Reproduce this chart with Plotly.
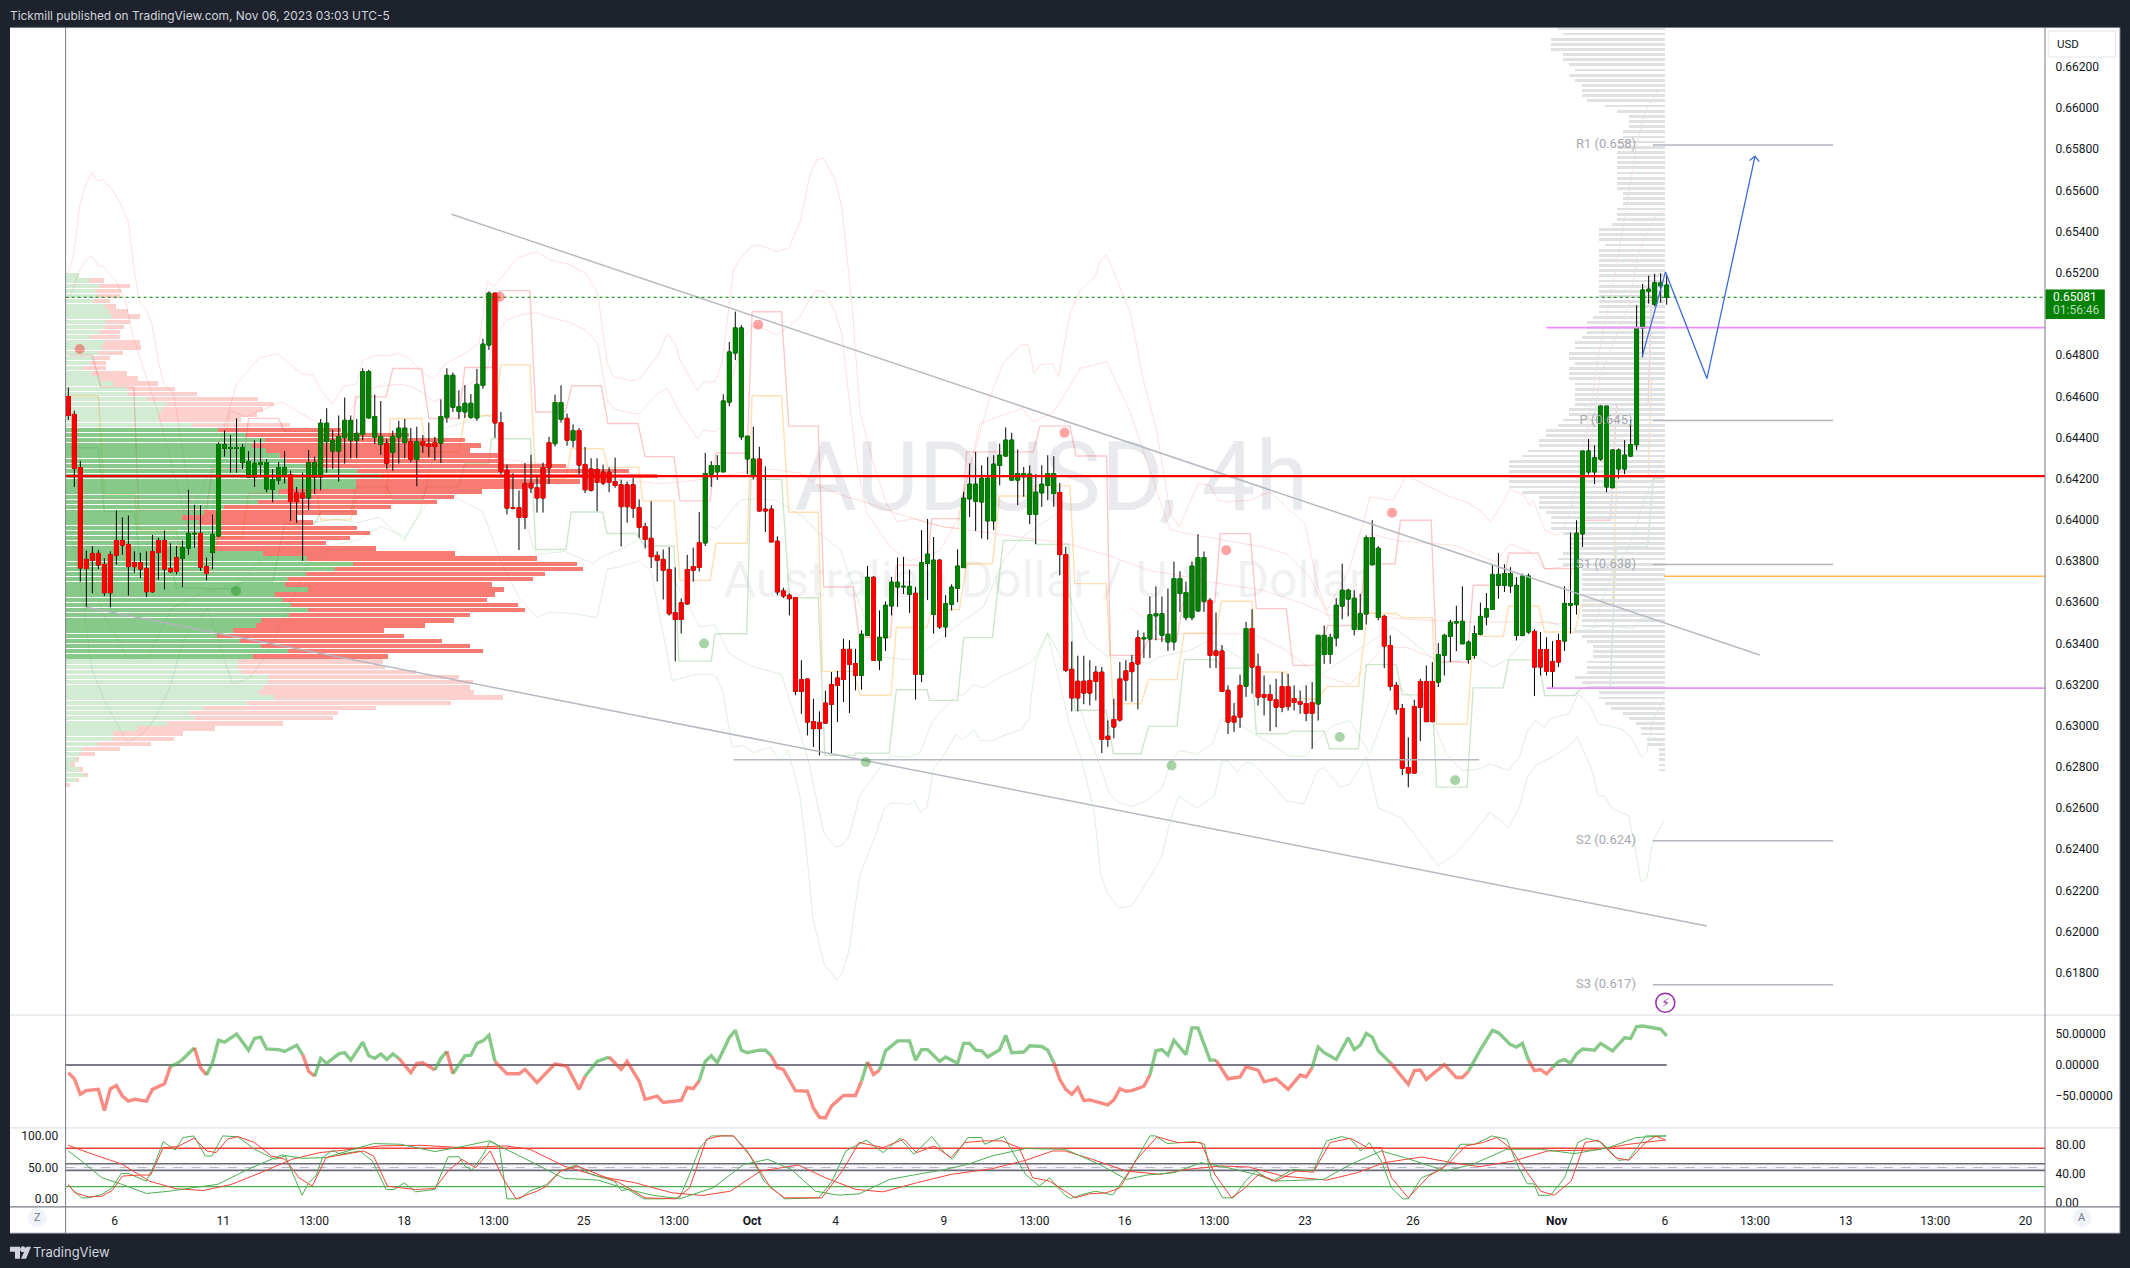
import numpy as np
import plotly.graph_objects as go

W, H = 2130, 1268
VS = 1.0034
AX_L, AX_R = 65.6, 2045.0
DARK = "#1e222d"
FONT = "Roboto"
TXT = "#131722"

# ---------- candles (prices in 1/10000) ----------
body_top = [6459.9,6451.2,6425.4,6380.8,6383.7,6383.7,6378.3,6383,6390,6390,
6388,6379.2,6379.2,6376.4,6384.6,6390,6390,6376.4,6381.6,6386.5,
6393.4,6393.4,6393.4,6377.3,6392.9,6436.6,6436.6,6435.1,6435.1,6435.1,
6428.3,6427.4,6427.8,6427.8,6419.6,6425.4,6425.4,6421.9,6413,6412.9,
6427.8,6427.8,6446.9,6446.9,6438.6,6440.5,6448.3,6448.3,6442,6472,
6472,6450.2,6440.5,6437.2,6440.5,6444.5,6444.5,6438,6438,6438,
6436.8,6437.5,6450.2,6470.2,6470.2,6455,6456.6,6456.6,6465.8,6485.3,
6510.1,6510.1,6447.2,6424,6405.9,6405.9,6417.7,6417.7,6415.6,6425.4,
6437.5,6457,6457,6449.3,6443.4,6443.4,6426.9,6424.7,6424.5,6423.1,
6423.1,6418.6,6417,6417,6417,6405.9,6396.7,6391,6382.7,6380.8,
6375.9,6354.9,6359.7,6375.9,6377.3,6388.9,6422.5,6426.4,6426.4,6457.7,
6481.5,6493.2,6493.2,6440.6,6429.5,6429.5,6405.2,6405.2,6389.6,6365.5,
6363.4,6362.2,6322.4,6322.7,6302,6301.6,6311,6320,6323.2,6337.1,
6337.1,6330.2,6344.4,6372.1,6372.1,6342.9,6358.5,6369.7,6369.7,6367.7,
6367.7,6364.3,6379.2,6383.3,6380.4,6380.4,6359.3,6367.3,6377.5,6410.5,
6417.3,6417.3,6420.2,6420.2,6427,6431.4,6438.7,6438.7,6422.5,6422.5,
6422.2,6413.4,6417.3,6422.5,6422.5,6413.3,6383.1,6327.4,6321.6,6321.6,
6322,6326,6326,6294.9,6303,6322.7,6326.6,6330.5,6342.7,6342.7,
6353.9,6354.4,6354.4,6344.4,6371.5,6371.5,6364.7,6377.5,6381.7,6381.7,
6360.9,6336.3,6336.3,6317.2,6304.6,6319.6,6347.2,6347.2,6328.8,6315.2,
6315.2,6312.6,6319,6319,6313.2,6311.8,6310.8,6311.3,6343.9,6343.9,
6342.9,6358.5,6365.8,6365.8,6361.9,6354.4,6391.4,6391.4,6386.2,6353.1,
6339,6319.6,6308.4,6279.7,6309.3,6321.5,6321.5,6321.5,6334.6,6343.9,
6350.2,6350.5,6350.7,6340.6,6344.7,6353.1,6356.8,6373.5,6373.5,6373.9,
6373.9,6368.2,6372.7,6372.7,6345.8,6337,6337,6331.2,6341.4,6359.4,
6359.4,6393.5,6433.4,6433.4,6430.1,6455.2,6455.2,6433.9,6433.9,6431.4,
6436.6,6493.4,6511.6,6512,6515.1,6515.1,6514]

body_bot = [6450.7,6425,6376.6,6376.4,6380.4,6378.1,6364.6,6364.6,6382.8,6387.7,
6377.3,6377.3,6376.1,6365.1,6365.1,6384.2,6376.1,6374.8,6375,6381.3,
6386.3,6393.1,6377,6374,6384.2,6392.2,6434.7,6434.7,6434.7,6427.8,
6420.7,6420.7,6426.9,6415,6414.8,6419.3,6421.7,6408.9,6408.9,6410.6,
6410.6,6420.7,6420.7,6438,6433.4,6433.4,6440,6438.7,6438.7,6441.5,
6449.5,6440.1,6436.6,6427.4,6432.7,6440.1,6437.5,6429.4,6429.4,6436.3,
6435.6,6435.6,6437.3,6449.8,6454.7,6452.6,6452.4,6449.8,6449.5,6465.3,
6484.9,6447.1,6423.5,6405.7,6405.6,6401.2,6401.2,6415.5,6410.6,6410.6,
6425.2,6437,6448.8,6438.7,6438.6,6426.6,6414.6,6414.4,6418.2,6417.9,
6418.2,6416.7,6406.4,6406.4,6405.7,6396.4,6390.5,6382.1,6380.4,6375.5,
6354.4,6351.6,6351.6,6359.2,6375.5,6376.9,6388.8,6422.2,6423.3,6423.3,
6457.2,6481,6440.3,6429.6,6421.2,6404.3,6404.3,6389.3,6365,6363,
6361.7,6316.7,6316.7,6301.8,6298.6,6298.6,6301.3,6310.4,6319.6,6322.5,
6329.8,6324.5,6324.5,6343.9,6331.8,6331.8,6342.7,6358.2,6367.4,6367.4,
6363.9,6325,6325,6378.8,6354.1,6348,6348,6359,6366.8,6376.8,
6410.2,6409,6408.7,6399.5,6399.5,6426.5,6431,6419.3,6419.3,6420.9,
6402.7,6402.7,6413.1,6416.8,6412.8,6383.1,6326.9,6313.5,6313.5,6315.9,
6315.9,6321.6,6293.4,6293.4,6299.4,6302.8,6322.2,6326.3,6330,6342.2,
6342.2,6353.4,6344,6340.7,6340.7,6364.2,6352.5,6352.5,6355.8,6360.5,
6334.2,6334.2,6316.7,6301.8,6301.8,6304.2,6319.2,6328.5,6313.9,6313.9,
6312.3,6309,6309,6309.3,6311.3,6310.5,6306.1,6306.1,6310.6,6334.6,
6334.6,6342.6,6358.1,6361.5,6346.8,6346.8,6354.3,6378.2,6352.6,6338.7,
6319.2,6308,6279.4,6277,6277,6309,6302,6302,6321.2,6334.2,
6343.4,6349.9,6339.8,6332.2,6334.2,6344.4,6352.8,6356.5,6368.2,6368.2,
6367.9,6343.9,6343.9,6345.5,6328.5,6328.5,6326.5,6326.5,6330.9,6341.1,
6358.5,6358.8,6393.2,6423.3,6423.3,6429.5,6416,6415.6,6424.7,6424.7,
6431,6436.5,6493.2,6511.1,6504.7,6513.7,6508.1]

wick_high = [6464.3,6453,6428.5,6385.1,6387.3,6385.4,6381.3,6384.7,6404.5,6401.2,
6402.1,6384.7,6384,6384.7,6392.7,6391.3,6394.8,6388.6,6387.3,6390,
6414.6,6407.3,6407,6381.6,6402.5,6437.7,6443.4,6441.2,6449.3,6436.8,
6433.4,6438.6,6439.4,6429.5,6424.7,6428.1,6433.4,6423.8,6416,6422.9,
6433.9,6430.7,6449,6454.2,6443.8,6450.7,6459.4,6450.7,6449,6473.6,
6472.9,6460.8,6457.7,6439.4,6443.4,6448.1,6449,6444.6,6445.2,6441.2,
6447.2,6440.3,6458.5,6473.6,6471.5,6462.9,6465.5,6461.1,6473.3,6488,
6511,6510.1,6452.4,6426.8,6422.6,6414.3,6427.6,6431.6,6421.2,6427.8,
6440.3,6460.8,6465.3,6451.6,6446.4,6444.6,6435.4,6429.9,6429.9,6426.8,
6425.5,6430.2,6419.5,6418.6,6420.3,6409.9,6398.6,6409,6384.7,6385.6,
6386.8,6376.9,6361.8,6383,6386.5,6403.8,6432.5,6428.5,6431.4,6461,
6486.4,6501.1,6494.6,6440.6,6445.2,6435.5,6426,6407.1,6392,6367,
6364.2,6362.5,6331.8,6322.7,6313.1,6307,6317,6326.1,6326.6,6342.3,
6341.5,6337.4,6346.4,6377.6,6372.6,6356,6360.4,6372.3,6381.7,6382,
6375.8,6367.4,6395,6400.4,6391.7,6381,6363.4,6368.7,6385.7,6413.6,
6427.4,6433,6426.5,6430.6,6431.4,6437,6444.9,6442.3,6434.2,6425.7,
6426.5,6422.2,6426.5,6431.4,6430.9,6418,6386.9,6341,6334,6334,
6331.8,6329,6328.5,6302.6,6313.1,6331,6331.8,6334.4,6346.4,6345.3,
6362.8,6367.7,6362.8,6366.6,6379.7,6375,6370,6379.7,6393,6384.6,
6362,6355,6339.2,6319.6,6311,6324.8,6350.5,6356.6,6335,6324.4,
6320,6322.8,6326,6325.2,6319.6,6317.1,6319.6,6321.2,6343.9,6348.7,
6344.7,6362,6378.7,6366.6,6365.8,6364,6392.5,6399.8,6387.2,6353.9,
6343.9,6321.2,6310.6,6294.4,6312.6,6322.8,6329.3,6330.9,6340.1,6344.7,
6351.5,6358.3,6367.7,6341.4,6348.7,6359.8,6364.5,6378.4,6384,6378.4,
6377,6372.2,6373.9,6373.9,6346.8,6345.5,6343,6341.1,6344.7,6367.7,
6393.8,6399.8,6433.4,6439.2,6436.2,6455.6,6455.2,6434.2,6434.7,6438.7,
6448.6,6504.2,6514.6,6518.6,6519.5,6519.8,6519]

wick_low = [6448.5,6416,6370,6357.5,6364.3,6376.1,6363,6357.5,6378.3,6383,
6363.2,6374.3,6371.7,6362.5,6364.6,6370.9,6366.2,6374.3,6373.5,6367.4,
6383,6386.5,6375.2,6370.7,6376.1,6391.7,6430.7,6422.9,6422.9,6424.7,
6420.3,6416,6421.2,6413.4,6408.5,6417.2,6417.7,6399.5,6398.6,6380.1,
6404.7,6412.5,6414.3,6422.9,6424.7,6418.6,6427.3,6429.9,6429.9,6438.6,
6449,6436.8,6431.6,6424.7,6423.8,6427.3,6429.9,6428.1,6416.3,6432.5,
6430.4,6429,6427.6,6447.2,6452.4,6449,6449.5,6449,6448.1,6463.7,
6482.5,6439.8,6422.1,6402.6,6405,6385.3,6395.5,6413,6403.5,6403.5,
6417.4,6435.6,6447.2,6436,6435.1,6422.1,6413,6413.7,6404.2,6416.9,
6413.4,6415.6,6387,6398.6,6400.9,6391.3,6386.1,6376.6,6370,6361.3,
6353.5,6331.3,6344.8,6358.7,6370,6374.9,6387.3,6416,6419.3,6423.3,
6455.2,6477.6,6438.7,6422.2,6419.7,6404,6394.1,6389.3,6363.4,6362,
6353.6,6314.8,6305.8,6295.3,6289.7,6285.6,6301,6286.7,6301.8,6311.5,
6306.2,6317.2,6317.5,6343.9,6331.5,6327,6336.3,6353.6,6357.7,6364,
6354.8,6312.7,6321.2,6361,6344.7,6347,6343,6356,6360,6376.8,
6401.4,6394.6,6390.9,6390.4,6395,6416.8,6430.6,6419.3,6407.1,6411.2,
6397.9,6388.2,6406.3,6409.5,6406.3,6373.1,6326.1,6307,6307,6310.4,
6309.9,6312.3,6286.7,6289.7,6293.9,6302,6312,6311.6,6308,6332.9,
6332.9,6341.5,6340.7,6336.3,6336.6,6355.3,6351.2,6351.2,6355.3,6355.3,
6328,6328,6316.7,6296,6297,6299,6314,6315.6,6309.8,6305,
6297.4,6299.3,6306.6,6307.4,6307.4,6305.8,6302.2,6288.8,6302.5,6330.1,
6330.1,6338.5,6351.7,6353.1,6343.9,6346.8,6349.2,6377.9,6351.2,6328,
6317.1,6305.5,6276,6270.1,6277,6292.5,6301.7,6301.7,6318.8,6324.4,
6330.9,6336.2,6339.8,6330.1,6332.5,6343.9,6348.7,6356.5,6361.7,6365,
6364.5,6341.4,6343.4,6344.7,6314.4,6324.4,6324.4,6317.9,6328.5,6336.3,
6344.7,6354,6386.8,6422,6417.3,6428.7,6413.4,6415.6,6420,6422.2,
6430.4,6433.9,6479,6505,6503.7,6505.4,6504.5]

# bars drawn red (everything else is green)
red_ranges = [(0,18),(22,23),(37,39),(53,53),(57,57),(59,61),(71,80),(83,83),(85,105),
              (115,131),(134,134),(141,141),(145,145),(165,178),(190,195),(197,207),
              (219,227),(244,248)]

# ---------- volume profile, left (up / down volume per row, top row first) ----------
vp_up = [29,51,74,65,69,62,87,96,104,89,84,73,53,85,81,71,62,54,37,55,76,106,136,138,181,225,214,209,209,282,
340,404,446,417,448,480,492,535,652,707,650,650,477,507,430,355,308,260,297,342,347,337,337,332,442,540,642,602,537,497,
490,543,469,485,505,541,499,437,425,374,339,390,437,497,419,
385,385,392,452,452,442,432,467,405,307,277,290,227,159,105,105,71,35,32,22,12,30,40,22,0]
vp_down = [0,35,70,59,51,37,24,42,61,55,47,49,67,80,86,56,37,36,53,81,86,99,109,156,248,242,228,218,182,219,
277,365,448,512,457,487,475,585,610,617,502,374,455,363,400,372,344,257,257,310,335,300,245,363,430,516,502,557,537,550,
465,437,491,459,507,488,405,433,380,339,417,453,467,438,303,
325,329,392,428,460,463,483,512,458,388,333,309,258,174,156,138,120,85,34,8,9,9,10,8,8]
vp_top_price = 0.65189
vp_step = 0.00025

# ---------- volume profile, right (visible range, top row first) ----------
vr_len = [107,102,114,114,114,102,102,96,90,96,90,83,83,83,78,60,48,36,36,36,42,42,48,48,48,48,48,48,48,48,48,48,
42,42,42,48,48,48,53,66,66,66,60,66,66,66,66,66,66,66,66,66,66,66,66,66,72,78,78,78,83,90,90,96,96,90,96,96,96,90,90,90,90,90,
96,96,102,107,119,119,126,126,137,143,156,156,156,156,156,156,143,126,126,126,119,114,114,114,102,96,96,96,
102,107,102,83,83,83,83,83,83,83,83,83,83,83,83,90,83,78,72,72,72,78,78,78,90,83,78,66,66,60,54,42,36,29,24,24,18,18,6,6,6,6,6]
vr_top_price = 0.66387

# ---------- indicator bands on the price pane (bar, price/1e-4) ----------
band_uu = [(0,6520),(0.9,6528.6),(1.9,6552.9),(2.9,6562.7),(3.9,6568.7),(4.9,6564.3),(5.8,6565.4),(6.8,6561.8),(7.8,6558.1),(8.8,6552.9),(10,6544.8),(10.8,6524.6),(11.8,6505.9),(13,6501.9),(13.9,6495.4),(15,6476.7),(15.9,6466.2),(17.6,6461),(20.6,6404),(24.3,6428),(27.3,6459),(28,6466),(31.8,6478.9),(34.8,6480.5),(38.8,6471),(40.7,6470.2),(42.4,6461.3),(44,6456.1),(45.7,6464.6),(48,6466.2),(49,6477.5),(51.2,6480),(53.2,6479.7),(54.9,6480.8),(56.5,6478.9),(59.1,6471.1),(60.8,6468.6),(62.8,6475.9),(66.4,6481.6),(68.4,6485.7),(69.7,6515.6),(70.8,6513.2),(73,6521.3),(75,6527.5),(77.9,6530.2),(80.2,6526.2),(83.2,6524.2),(86.1,6519.7),(88.1,6510),(89.7,6475.9),(90.7,6469.4),(94,6467.5),(95,6468.6),(98,6479.2),(99.7,6490.5),(101,6485.7),(101.8,6477.6),(104.7,6462.7),(105.7,6467),(107.6,6467),(108.8,6476),(110.7,6521.4),(111.8,6527),(113.8,6533),(114.9,6533.5),(117.9,6530.3),(119.9,6531.9),(121.8,6544.9),(123.5,6568.4),(124.6,6574.9),(125.7,6575.7),(127.6,6565.1),(128.7,6552.2),(130.4,6505.2),(131.8,6451.7),(134,6427.4),(136.2,6407.9),(137.9,6399),(140.6,6400.6),(145.6,6396.6),(148.1,6395.8),(148.7,6411.1),(153.4,6459.8),(155.6,6476),(158.7,6485.4),(159.8,6484.9),(160.7,6471.1),(161.7,6475.2),(163.7,6476),(164.8,6469.5),(166.7,6500.3),(168.4,6511.6),(170.9,6518.1),(171.7,6525.4),(172.8,6528.7),(176.7,6501.1),(178.9,6467.9),(181.1,6443.6),(183.4,6403),(184.9,6396.6),(188,6417.6),(190,6416.8),(191.3,6409.5),(192.7,6408.7),(196.6,6409.5),(199.9,6413.6),(205.8,6398.2),(208,6367),(209.4,6356),(213,6375),(215.5,6398.2),(216.6,6411.1),(220.5,6409.5),(222.7,6421.7),(225.4,6417.6),(230.7,6410.3),(232.7,6408.7),(234.9,6404.7),(236.7,6399),(238.8,6408.7),(239.9,6415.2),(242.1,6412),(243.2,6407.1),(243.8,6409.5),(245.7,6395),(247.7,6392.5),(248.8,6395),(250.2,6406.3),(252.7,6443.6),(254.6,6479),(257.7,6524.1),(261.1,6583.2),(262.5,6598.8),(264.6,6608.3),(265.6,6609.2)]
band_u = [(0,6506.7),(1.9,6521.3),(2.9,6526.2),(3.9,6528.1),(4.9,6523.7),(5.8,6522.9),(7.8,6516.5),(9.5,6506.7),(10.8,6488.9),(13,6469.4),(15,6451.6),(20,6395),(24,6405),(27,6453.2),(29.5,6450),(35.5,6457.3),(38.8,6451.6),(44,6443.5),(46,6448.4),(48.6,6461.3),(51.3,6464.6),(55.2,6465.9),(57.2,6464.6),(59.2,6461.3),(60.8,6457.3),(62.8,6459.7),(66.4,6464.6),(69.7,6472.7),(70.8,6488.9),(73,6497),(75,6499.4),(77.9,6500.7),(80.2,6498.3),(83.2,6496.2),(86.1,6492.1),(88.1,6485.7),(89.7,6458.1),(90.7,6454),(94,6451.6),(95,6451.6),(98,6461.3),(99.7,6463.8),(101.8,6451.7),(104.7,6439.5),(105.7,6443.6),(107.6,6442.8),(108.8,6445.2),(109.6,6459.8),(112.4,6489),(113.8,6493.8),(114.9,6493.8),(117.9,6489.8),(119.9,6493.8),(121.8,6498.7),(123.5,6507.6),(124.6,6511.6),(126,6510.5),(127.6,6501.1),(128.7,6490.6),(131.2,6427.4),(132.9,6403),(136.8,6386.8),(140,6380),(145,6385),(148,6400),(151.7,6446.8),(158.7,6454.1),(160.6,6447.6),(164,6452.5),(165.6,6459.8),(168.4,6473.6),(172.8,6476.8),(176.7,6452.5),(181.1,6414.4),(183.4,6395),(187.8,6392.5),(198.8,6386.8),(202.7,6383.6),(206.6,6372.2),(210,6351.2),(215.5,6365),(216.6,6393.3),(221,6390),(230.7,6387.6),(237.6,6379.5),(239.9,6388.4),(243.2,6384.4),(245.7,6376),(250.7,6378),(254.9,6470),(259.7,6504.2),(261.1,6527.6),(262.5,6538),(263.9,6546.7),(265.6,6550.2)]
band_m = [(71,6430),(85,6425),(90,6420),(98.5,6417.6),(104,6419),(112.9,6423.4),(117.4,6424.5),(121.8,6422.6),(125.1,6416.1),(129.6,6411.2),(134,6407.2),(137.9,6403.1),(140.6,6400.7),(145.6,6396.6),(147.9,6395.8),(166.2,6388.5),(173,6382.8),(179.8,6375.5),(185,6373),(190,6369.8),(198.8,6365.8),(205.5,6359.3),(209.9,6353.6),(216.6,6355.2),(221,6352),(232.1,6350.4),(243.2,6350.4),(248.7,6349.6),(250.4,6378.7)]
band_m2 = [(176.6,6357.7),(182.2,6344.7),(197.2,6344.7),(202.7,6336.6),(207.7,6325.2),(213.3,6320),(218.8,6338),(222.7,6338),(228.3,6331.7),(232,6330.9)]
band_l = [(0,6388.2),(2.7,6384.7),(5.7,6355.2),(9.8,6333.5),(13.2,6332.7),(17.2,6357),(22.8,6364.8),(27.6,6368.3),(31.7,6379.5),(36.2,6386.5),(40.6,6398.6),(44.7,6400.4),(48,6398.6),(51.8,6401.2),(55.9,6390),(58.5,6403.8),(61.8,6443.8),(69.6,6450.7),(71.1,6449),(73.3,6414.3),(74.8,6411.7),(77.8,6383),(82.6,6384.7),(87.4,6378.7),(89.3,6383),(91.5,6385),(96,6392),(100,6375),(105.1,6348),(107.6,6349),(110,6335),(113.6,6329),(118.7,6325),(123.2,6283.1),(124.3,6266.9),(125.8,6247.4),(127.6,6241.4),(128.7,6241.7),(129.9,6245.8),(131.7,6266),(134.7,6278.2),(136.9,6285.5),(138.4,6285),(139.9,6284.7),(141.8,6287.1),(143.6,6300.9),(145.1,6306.6),(148.1,6315.5),(148.8,6314.7),(150.7,6320),(152.2,6318.4),(155.5,6324.4),(158.8,6328.5),(160.6,6331.7),(163,6345),(165.5,6331.7),(171.8,6279.8),(173.3,6266.9),(174.8,6262.8),(176.9,6260.7),(179.3,6263.3),(181.9,6269.3),(183.4,6281.4),(184.8,6287.9),(187.8,6286.3),(190.4,6291.2),(191.9,6303.3),(193.4,6303.8),(196.4,6297.7),(199.3,6292.8),(203,6285.5),(206,6285),(207.5,6292),(210.4,6300.1),(213.3,6302.5),(216.6,6286.3),(221,6320),(226.6,6305.8),(229.3,6286.3),(232,6278.2),(234.9,6279.1),(236.6,6281.5),(239.7,6278.3),(241.5,6284.8),(242.8,6297.7),(244.2,6302.6),(245.6,6299.3),(246.6,6303.4),(249.7,6305.8),(251.3,6315.6),(253.2,6309.9),(254.6,6301),(258.4,6298.5),(260.1,6294.5),(261.8,6284.8),(262.7,6287.2),(263.7,6302.6),(265.6,6313.1)]
band_ll = [(0,6400),(2.4,6362.2),(3.9,6327.4),(6.1,6311.8),(9.8,6291.9),(12.4,6296.2),(14.3,6303.2),(16.9,6318.8),(19.1,6341.3),(23.2,6357),(27.3,6320.5),(30.2,6323.1),(32.5,6332.7),(34.7,6344.8),(39.9,6378.7),(44.7,6388.2),(48,6390),(52,6396.9),(56,6391.7),(60,6409),(64,6411.7),(69,6403.8),(72,6379.5),(75,6362.2),(78,6352.6),(80,6355.2),(84,6354.4),(88,6352.6),(89.7,6376),(91.5,6377),(95,6380),(97,6375),(100.5,6322),(104.6,6325),(106.8,6325),(107.9,6323.6),(109,6315.5),(110.5,6289.6),(112.4,6290.4),(113.9,6287.1),(116.9,6289.6),(118.3,6283.1),(119.8,6287.9),(121.7,6266.9),(122.8,6240.9),(123.9,6206.9),(125.8,6184.2),(127.8,6176.6),(128.7,6179.3),(129.9,6190.7),(131.7,6227.1),(134.7,6249.8),(135.8,6259.6),(136.9,6262.5),(139.9,6261.7),(140.8,6263.6),(141.8,6257.9),(142.9,6260.4),(144,6279.8),(145.1,6283.1),(147.7,6295.7),(148.8,6293.1),(150.7,6298),(151.8,6292.8),(154,6292.8),(155.1,6294.7),(158.8,6298.5),(160,6304.1),(160.3,6315.5),(161.1,6331.7),(163,6345),(166.6,6300.9),(168.5,6284.7),(170.7,6258.8),(171.8,6228),(172.9,6219),(174.8,6211.4),(176.9,6212.4),(179.3,6223.1),(181.9,6236),(183.4,6253.9),(184.8,6266),(187.8,6260),(190.8,6266),(191.9,6282.3),(193,6283.1),(194.5,6277.4),(196,6282.3),(197.1,6281.8),(200.1,6272.5),(202.7,6263.6),(205.6,6262),(207.9,6278.2),(209,6279.8),(211.6,6270.1),(213.3,6271.7),(216,6285),(218,6260),(222,6255),(226,6240),(228,6232),(231,6238),(234.9,6252.3),(236.6,6258),(239.7,6250.7),(241.5,6260.4),(242.8,6275),(244.2,6280.7),(247,6285),(249.7,6290),(251.1,6294.5),(253.5,6279.1),(254.6,6266.1),(255.6,6266),(257,6259.6),(259.7,6256.4),(261.1,6234.5),(261.7,6224.3),(262.7,6225.6),(263.7,6244.2),(265.6,6253.9)]
band_g3 = [(106,6397.4),(108,6395.8),(111.8,6409.5),(114.6,6410.3),(117.9,6409.5),(122.3,6401.4),(125.1,6393.3),(128.5,6385.2),(134.8,6333.4),(140.7,6331.8),(144.9,6341.5),(149,6351.2),(152.3,6357.7),(155.9,6382),(159.4,6393.3),(164.5,6403),(166.2,6365.8),(169.6,6341.5),(173,6333.4),(179.8,6330.2),(181.5,6333.4),(186.6,6336.6),(190,6341.5),(196.8,6330.2),(201.9,6312.3),(207.8,6323.7),(214.6,6336.6),(220.5,6348),(228.2,6330.2),(234.2,6333.4),(237,6328.5),(239.7,6332.6),(241.8,6339.9),(245.3,6351.2),(251.8,6345.5),(254.9,6348.8),(260.4,6347.2),(261.8,6352),(265.6,6353.7)]
band_g4 = [(254,6348),(255.6,6364),(257.3,6377),(259.5,6385),(262.5,6411.3),(265.6,6432.1)]

# stair lines: start bar, end bar, level
stair_red = [(0,4,6480),(5.4,10.9,6464.6),(11.7,23,6404.7),(24,29,6425),(30,35,6449.3),(36,42,6442.9),(43,47,6430),(47.8,52.9,6459.7),(54,58.8,6473.5),(60,65,6449.2),(66,70.5,6474),(71.8,76.8,6511.3),(77.8,82.7,6452.4),(83.8,88.7,6465.1),(89.8,94.8,6446.8),(96,100.8,6430.7),(101.8,106.8,6409.2),(107.8,113,6432.5),(113.8,118.7,6501.1),(119.9,124.8,6445.5),(125.7,130.6,6367.4),(131.6,136.8,6343),(137.8,142.9,6378),(143.7,148.7,6400.6),(149.5,160.6,6433),(161.7,166.7,6445.5),(167.7,172.8,6431),(173.4,178.5,6334.2),(179.8,184.5,6342),(185.5,190.8,6360),(191.7,196.7,6393.3),(197.7,202.7,6356.9),(203.8,207.4,6329.3),(209.6,214.7,6348.7),(215.8,220.8,6378.7),(221.7,226.8,6399.8),(227.7,232.8,6330.9),(233.8,238.8,6368.2),(239.7,244.6,6383.9),(245.7,250.7,6376.3),(251.8,256.6,6399.8),(257.7,262.9,6456.4),(263.5,265.6,6508)]
stair_orange = [(0,5,6460),(6,11,6412.5),(11.7,18,6395),(19,24,6379),(25,29,6391.7),(30,35,6412.9),(36,41,6420),(42,47,6400),(48,53,6410.8),(53.6,58.8,6449.2),(59.6,65,6433),(66,71,6450.7),(72,76.8,6475.4),(77.8,82.8,6420),(83.7,89,6434.6),(89.8,94.9,6425.5),(95.6,100.8,6409.2),(101.8,106.8,6370.6),(107.8,113,6388.6),(113.8,118.7,6460.3),(119.9,124.8,6403.7),(125.5,130.6,6326.4),(131.8,136.9,6314.8),(137.8,142.9,6347.7),(143.7,148.3,6356.4),(149.5,153.8,6378.7),(155,160,6411.6),(161,166.7,6416.5),(167.5,172.7,6369),(173.9,178.5,6310.7),(179.8,184.5,6322.4),(185.7,191,6345),(191.9,197,6360.5),(197.7,202.7,6326.1),(203.6,208,6313.1),(209.5,214.7,6319.1),(216.2,221,6354.5),(222,227,6352.5),(227.7,232.8,6300.7),(233.8,238.8,6343.4),(239.7,244.7,6358),(245.7,250.7,6345.5),(251.8,257,6359),(257.7,262.9,6421),(263.5,265.6,6469)]
stair_green = [(0,5,6435),(6,11,6404),(12,17,6379),(18,22,6367),(23,27.6,6366.5),(29,34,6370),(36,41,6398),(42,47,6404),(48,53,6416),(54,59,6410),(59.6,65,6416),(66,70,6427.3),(70.4,76.9,6439.4),(77.8,82.8,6385.6),(83.7,88.9,6403.8),(89.7,94.5,6393.4),(96,100.8,6387.3),(101.6,107,6331.4),(107.6,112.9,6344.7),(113.6,118.7,6419.7),(120,124.8,6362.2),(125.9,130.9,6285.6),(131,136.6,6286.7),(137.8,142.9,6317.5),(143.3,148,6312.3),(149,153.8,6342.8),(155.6,160.6,6390),(161.1,166.5,6388),(167.5,172.7,6307.5),(173.9,178.5,6286.4),(179.8,184.5,6299.7),(185.7,191,6332.1),(192,197,6328),(197.7,202.7,6296.1),(203.6,209,6297.4),(209.9,214.7,6288.8),(216,221,6329.7),(222,227,6315),(227.7,232.8,6270.2),(233.8,238.8,6318.4),(239.7,244.7,6332),(245.7,250.7,6314.7),(251.8,256.6,6318.3),(257.6,262.8,6386.8),(263.8,265.6,6420.1)]

dots_red = [(1.9,6483),(71.8,6508.3),(114.8,6494.8),(165.8,6442.3),(192.7,6385.2),(220.3,6403.5)]
dots_green = [(27.9,6365.5),(105.8,6339.9),(132.7,6282.4),(183.6,6280.7),(211.6,6294.5),(230.8,6273.5)]

# drawings
trend_upper = [(63.8,6548.4),(281.5,6334.4)]
trend_lower = [(3,6357.5),(272.7,6202.7)]
support_line = [(110.7,6283.5),(234.8,6283.5)]
path_blue = [(261.9,6479),(265.8,6520.4),(272.7,6468.6),(280.7,6576.6)]
arrow_blue = [(279.8,6574.5),(280.7,6576.6),(281.4,6574)]
level_red = 6421.2
level_orange = 6372.6
level_magenta = [6493.4,6318.3]
last_price = 6508.1
pivot_names = ["R1 (0.658)","P (0.645)","S1 (0.638)","S2 (0.624)","S3 (0.617)"]
pivot_levels = [6582,6448.2,6378.3,6244.2,6174.2]

price_ticks = [0.618,0.620,0.622,0.624,0.626,0.628,0.630,0.632,0.634,0.636,0.638,0.640,0.642,0.644,0.646,0.648,0.650,0.652,0.654,0.656,0.658,0.660,0.662]

# ---------- CCI pane ----------
cci_points = [(0,-12),(1,-22),(2,-47),(3,-41),(5,-39),(6,-73),(7,-38),(8,-33),(9,-50),(10,-58),(11,-55),(13,-58),(14,-39),(16,-30),(17,-2),(18,2),(19,9),(21,28),(22,-4),(23,-16),(24,4),(25,40),(26,37),(28,50),(30,24),(31,43),(32,45),(33,26),(35,25),(36,22),(38,32),(39,17),(40,-10),(41,-18),(42,11),(43,3),(45,18),(46,20),(47,8),(49,37),(50,15),(51,11),(52,18),(53,9),(54,18),(55,11),(57,-12),(58,3),(59,4),(61,-8),(62,11),(63,22),(64,-14),(66,15),(67,16),(68,35),(69,39),(70,48),(71,6),(73,-14),(75,-14),(76,-7),(78,-28),(80,-7),(81,2),(83,-2),(85,-39),(86,-18),(88,6),(90,13),(92,-7),(93,6),(95,-26),(96,-55),(98,-50),(99,-60),(102,-57),(103,-36),(104,-38),(105,-25),(106,6),(107,15),(108,4),(110,44),(111,56),(112,24),(113,20),(115,24),(116,24),(117,15),(118,-4),(119,-7),(121,-41),(123,-42),(124,-69),(125,-84),(126,-85),(127,-66),(129,-49),(131,-49),(132,-26),(133,5),(134,-15),(135,-8),(136,23),(138,39),(140,39),(141,8),(142,25),(143,25),(145,6),(146,13),(148,3),(149,35),(150,35),(151,24),(152,23),(153,13),(155,25),(156,48),(157,20),(159,21),(160,31),(162,30),(163,24),(164,4),(165,-23),(166,-39),(167,-47),(168,-36),(169,-57),(170,-56),(172,-61),(173,-64),(174,-56),(175,-38),(176,-42),(177,-41),(179,-34),(180,-16),(181,23),(182,25),(183,16),(184,40),(186,17),(187,60),(188,60),(190,8),(191,8),(193,-22),(195,-19),(196,-3),(198,-8),(199,-27),(201,-22),(203,-39),(205,-16),(206,-19),(207,-4),(208,29),(209,20),(211,9),(213,44),(214,25),(215,32),(216,51),(217,45),(218,23),(220,4),(221,-7),(223,-31),(224,-9),(225,-8),(226,-23),(229,1),(231,-20),(232,-20),(233,-10),(235,25),(237,56),(238,52),(240,33),(241,29),(242,35),(243,8),(244,-9),(245,-7),(246,-14),(247,-4),(248,6),(249,9),(250,3),(251,18),(252,26),(254,24),(255,35),(257,23),(259,44),(260,43),(261,62),(262,63),(264,59),(265,58),(266,47)]
cci_turns = [17,21,23,39,41,55,61,63,64,71,86,90,105,117,132,133,135,164,180,191,207,220,233,243,247]

# ---------- stochastic pane ----------
fast_green = [(0,21.8),(2.2,2.2),(3.3,2.2),(5.6,7.5),(7.3,18),(8.8,40.8),(10.1,40.3),(13,28.6),(14.4,56.1),(15.8,91),(17.8,77.8),(19.1,97.4),(20.9,100),(22.8,68.3),(23.9,68.3),(25.7,100),(28.2,98.5),(31,78.9),(34.4,63),(36.1,68.3),(38.9,6.4),(40,26),(41.2,36.6),(42.3,65.7),(44,77.3),(45.2,71),(48.5,76.2),(50.6,60.4),(52.9,15.4),(54.2,15.4),(55.9,26),(57.8,11.7),(61,15.4),(63.2,66.7),(65,67.3),(66,52.4),(67.2,46.1),(69.1,71),(70.2,92.1),(71.7,84.2),(73,0.6),(75.1,0.6),(76.8,12.8),(79.6,23.3),(81.9,44.5),(84.5,54),(87,39.2),(90.9,28.6),(92,13.8),(93.2,15.4),(95.8,0.6),(98.9,0.6),(101.7,2.2),(103.4,39.2),(105.1,81.5),(107,100),(110.7,100),(113,76.2),(115.8,28.6),(119.2,0.6),(124.9,2.2),(127.1,28.6),(129.4,76.2),(132.8,93.2),(135.6,73.6),(138.4,96.4),(140.7,71),(143.7,99),(145.8,73.6),(147.1,63),(149.7,97.4),(152,97.4),(152.5,86.8),(155.7,99),(159.3,39.2),(161.6,20.7),(163.3,33.9),(165.9,5.9),(166.8,1.1),(168.7,7.5),(171,12.8),(173.8,6.4),(176.6,44.5),(180,100),(180.9,100),(182.9,87.9),(187.4,91),(189.1,86.8),(190.2,33.9),(192.1,2.2),(193.9,2.2),(195.9,28.6),(197.6,44.5),(200.4,28.6),(203.8,47.2),(207.2,44.5),(209.4,92.1),(211.9,99),(213.4,94.8),(215.1,76.2),(216.5,89.5),(218.5,60.4),(220.2,18),(222.1,0.6),(223,0.6),(225.2,33.9),(228.6,47.2),(231.7,86.8),(234.1,86.8),(236.9,100),(239.4,94.8),(241.1,55),(242.8,24.4),(243.9,24.4),(244.7,5.9),(246.7,6.4),(249,33.9),(251.2,89.5),(252.7,96.4),(255.2,89.5),(258,61.4),(259.7,63),(262.5,100),(265.9,100)]
fast_red = [(0,23.3),(1.1,10.1),(3.3,3.8),(5.6,4.8),(7.3,13.8),(9,36.6),(11.8,38.2),(13.7,38.2),(15.8,81.5),(18.2,83.1),(20.9,96.4),(23.1,76.2),(24.6,73.6),(26.5,94.8),(28.2,99),(31,89.5),(33.8,68.3),(36.1,63),(38.4,33.9),(40.6,20.7),(42.9,65.7),(46.3,72),(49.1,76.2),(50.8,68.3),(53.1,20.7),(55.3,18),(57.8,15.4),(61,17),(63.2,44.5),(65.5,63),(67.8,49.8),(70.2,76.2),(72.3,33.9),(74.5,0.6),(78,12.8),(79.6,20.7),(81.9,44.5),(84.7,52.4),(88.1,39.2),(91.7,26),(96,2.2),(101.1,0.6),(103.4,18),(106.2,94.8),(108.5,100),(110.7,100),(113.5,68.3),(116.9,18),(119.2,2.2),(125.4,2.2),(128.8,44.5),(131.6,89.5),(135.6,81.5),(139,94.8),(141.2,73.6),(144.1,84.2),(146.9,65.7),(149.2,89.5),(152.5,92.1),(155.4,92.1),(158.2,81.5),(160.5,33.9),(163.3,28.6),(165.9,12.8),(167.6,2.2),(169.9,8.5),(172.7,10.1),(175,18),(177.8,63),(181.2,98.5),(184.6,89.5),(188.5,89.5),(190.8,39.2),(193.6,2.2),(195.5,15.4),(198.1,39.2),(200.9,28.6),(204.3,44.5),(207.2,42.9),(210,89.5),(213.4,96.4),(216.2,81.5),(218.5,81.5),(220.2,33.9),(223,2.2),(226.4,36.6),(229.2,52.4),(232.6,84.2),(235.4,89.5),(237.7,97.4),(239.9,81.5),(242.8,41.9),(245,12.8),(247.3,6.4),(250.1,28.6),(252.4,89.5),(254.6,93.2),(257.5,65.7),(259.7,61.4),(262.5,89.5),(264.2,100),(265.7,93.7)]
slow_green = [(0,76.2),(2.2,60.4),(5.6,33.9),(9,23.3),(13,9.1),(16.9,12.8),(21.4,19.1),(24.8,23.3),(30.5,49.8),(35.5,69.9),(38.9,64.6),(42.9,65.7),(47.4,78.9),(50.8,87.9),(55.3,86.8),(61,75.2),(65.5,83.1),(70,92.1),(75.1,68.3),(80.2,44.5),(82.5,32.9),(88.1,30.2),(93.2,15.4),(97.2,6.4),(101.7,0.6),(107.3,18),(112.4,55),(116.4,63),(120.3,47.2),(124.3,12.8),(128.2,6.4),(131.6,8.5),(136.7,31.3),(141.2,39.2),(145.2,45.6),(149.7,55.1),(153.7,68.3),(159.3,80),(163.8,80),(165.9,78.9),(171.6,55.1),(176.1,31.3),(179.5,38.2),(184,41.9),(188.5,57.7),(193,49.8),(197.6,39.2),(200.9,28.6),(208.9,31.3),(213.4,55.1),(218.5,76.2),(222.4,65.7),(229.2,44.5),(233.7,55.1),(239.4,78.9),(245,78.9),(250.7,72),(256.3,81.5),(260.9,97.4),(265.9,100)]
slow_red = [(0,85.2),(3.3,73.6),(9,55.1),(13.5,28.6),(18,16.5),(22.5,13.8),(27.1,23.3),(32.7,44.5),(37.2,63),(41.8,73.6),(47.4,78.9),(52,84.2),(58.7,85.2),(65.5,81.5),(72.8,84.2),(76.8,78.9),(82.5,52.4),(88.1,36.6),(94.3,26),(100.5,10.1),(105.6,5.9),(110.2,12.8),(115.2,44.5),(121.5,54),(126,33.9),(131.1,15.4),(135.6,11.7),(141.2,26),(146.9,39.2),(153.7,48.2),(159.3,61.4),(163.8,76.2),(165.9,76.2),(170.4,63),(176.1,44.5),(181.7,39.2),(186.2,47.2),(191.9,52.4),(196.4,50.9),(202.1,36.6),(209.4,30.2),(214.5,41.9),(219,57.7),(225.2,66.7),(230.3,57.7),(234.9,51.4),(240.5,60.4),(246.2,76.2),(254.1,77.8),(259.7,86.8),(265.9,93.7)]
stoch_hi, stoch_mid_hi, stoch_mid, stoch_mid_lo, stoch_lo = 80.5, 56, 50, 45.5, 20

# ---------- time axis ----------
time_bars = [7.7,25.8,40.9,55.9,70.8,85.8,100.8,113.8,127.7,145.7,160.8,175.8,190.7,205.8,223.8,247.7,265.7,280.7,295.8,310.7,325.7]
time_labels = ["6","11","13:00","18","13:00","25","13:00","<b>Oct</b>","4","9","13:00","16","13:00","23","26","<b>Nov</b>","6","13:00","13","13:00","20"]

# ---------- geometry ----------
def xd(): return [AX_L / W, AX_R / W]
def yd(t, b): return [1 - b * VS / H, 1 - t * VS / H]
MAIN = yd(27.5, 1014)
CCI = yd(1014, 1126.7)
STO = yd(1126.7, 1205.6)
PY = [0.61595, 0.66391]
BX = [-0.45, 328.96]
px = lambda v: np.asarray(v, float) / 1e4

def unz(pairs):
    a = np.array(pairs, float)
    return a[:, 0], a[:, 1]

def stair(rows):
    xs, ys = [], []
    for s, e, v in rows:
        xs += [s, e]; ys += [v, v]
    return xs, ys

fig = go.Figure()

def add_line(pairs, color, width=1, xa="x", ya="y", dash=None, scale=True):
    x, y = unz(pairs)
    fig.add_trace(go.Scatter(x=x, y=px(y) if scale else y, xaxis=xa, yaxis=ya, mode="lines",
                             line=dict(color=color, width=width, dash=dash), hoverinfo="skip", showlegend=False))

# --- base layer: watermark, bands, stairs
fig.add_trace(go.Scatter(x=[163.6], y=[px(6416.4)], mode="text", text=["AUDUSD, 4h"],
                         textfont=dict(family=FONT, size=96, color="#e9eaed"), hoverinfo="skip", showlegend=False))
fig.add_trace(go.Scatter(x=[162.5], y=[px(6368.4)], mode="text", text=["Australian Dollar / U.S. Dollar"],
                         textfont=dict(family=FONT, size=50, color="#f0f1f3"), hoverinfo="skip", showlegend=False))
PINK = "rgba(255,0,0,0.13)"
PALE = "rgba(0,128,0,0.13)"
for b in (band_uu, band_u, band_m, band_m2):
    add_line(b, PINK)
for b in (band_l, band_ll, band_g3, band_g4):
    add_line(b, PALE)
for rows, col in ((stair_red, "rgba(242,54,69,0.27)"), (stair_orange, "rgba(255,152,0,0.3)"), (stair_green, "rgba(0,128,0,0.2)")):
    xs, ys = stair(rows)
    fig.add_trace(go.Scatter(x=xs, y=px(ys), mode="lines", line=dict(color=col, width=1.4), hoverinfo="skip", showlegend=False))

# --- left volume profile (x4/y4)
n_vp = len(vp_up)
vp_y = [vp_top_price - k * vp_step for k in range(n_vp)]
in_va = [30 <= k < 75 for k in range(n_vp)]
fig.add_trace(go.Bar(y=vp_y, x=vp_up, orientation="h", xaxis="x4", yaxis="y4", width=vp_step * 0.86,
                     marker=dict(color=["rgba(76,175,80,0.68)" if v else "rgba(76,175,80,0.25)" for v in in_va], line_width=0),
                     hoverinfo="skip", showlegend=False))
fig.add_trace(go.Bar(y=vp_y, x=vp_down, orientation="h", xaxis="x4", yaxis="y4", width=vp_step * 0.86,
                     marker=dict(color=["rgba(244,67,54,0.7)" if v else "rgba(244,67,54,0.25)" for v in in_va], line_width=0),
                     hoverinfo="skip", showlegend=False))

# --- right volume profile (x5/y5)
vr_y = [vr_top_price - k * vp_step for k in range(len(vr_len))]
fig.add_trace(go.Bar(y=vr_y, x=vr_len, orientation="h", xaxis="x5", yaxis="y5", width=vp_step * 0.55,
                     marker=dict(color="#e0e1e3", line_width=0), hoverinfo="skip", showlegend=False))

# --- candles (x6/y6)
n = len(body_top)
bars = list(range(n))
is_red = [False] * n
for a, b in red_ranges:
    for i in range(a, b + 1):
        is_red[i] = True
t, b_ = px(body_top), px(body_bot)
opens = [t[i] if is_red[i] else b_[i] for i in bars]
closes = [b_[i] if is_red[i] else t[i] for i in bars]
UP, DN = "#008000", "#ff0000"
fig.add_trace(go.Candlestick(x=bars, open=opens, close=closes, high=px(wick_high), low=px(wick_low), xaxis="x6", yaxis="y6",
                             increasing=dict(line=dict(color="#000000", width=1), fillcolor="#000000"),
                             decreasing=dict(line=dict(color="#000000", width=1), fillcolor="#000000"),
                             hoverinfo="skip", showlegend=False))
fig.add_trace(go.Candlestick(x=bars, open=opens, close=closes, high=t, low=b_, xaxis="x6", yaxis="y6",
                             increasing=dict(line=dict(color=UP, width=1), fillcolor=UP),
                             decreasing=dict(line=dict(color=DN, width=1), fillcolor=DN),
                             hoverinfo="skip", showlegend=False))

# --- drawings (x7/y7)
L = "rgba(178,181,190,0.95)"
d = dict(xa="x7", ya="y7")
add_line(trend_upper, L, 1.5, **d)
add_line(trend_lower, L, 1.5, **d)
add_line(support_line, L, 1.5, **d)
add_line([(BX[0], last_price), (BX[1], last_price)], "#008000", 1, dash="dot", **d)
add_line([(BX[0], level_red), (BX[1], level_red)], "#ff0000", 2.2, **d)
add_line([(265.5, level_orange), (BX[1], level_orange)], "#ffb74d", 1.6, **d)
for lv in level_magenta:
    add_line([(246, lv), (BX[1], lv)], "#ea8ffb", 1.8, **d)
for nm, lv in zip(pivot_names, pivot_levels):
    add_line([(263.7, lv), (293.7, lv)], "#b2b5be", 1.5, **d)
fig.add_trace(go.Scatter(x=[255.9] * 5, y=px(pivot_levels), mode="text", text=pivot_names, xaxis="x7", yaxis="y7",
                         textfont=dict(family=FONT, size=13, color="#a6a8b0"), hoverinfo="skip", showlegend=False))
add_line(path_blue, "#3d6bd8", 1.3, **d)
add_line(arrow_blue, "#3d6bd8", 1.3, **d)
xr, yr = unz(dots_red)
fig.add_trace(go.Scatter(x=xr, y=px(yr), xaxis="x7", yaxis="y7", mode="markers", marker=dict(size=10, color="rgba(255,0,0,0.36)"), hoverinfo="skip", showlegend=False))
xg, yg = unz(dots_green)
fig.add_trace(go.Scatter(x=xg, y=px(yg), xaxis="x7", yaxis="y7", mode="markers", marker=dict(size=10, color="rgba(0,128,0,0.34)"), hoverinfo="skip", showlegend=False))

# --- CCI pane
cx, cy = unz(cci_points)
add_line([(-0.45, 0), (266, 0)], "#787b86", 2, xa="x2", ya="y2", scale=False)
start = 0
colour_i = 0
idx_turn = [int(np.where(cx == tb)[0][0]) for tb in cci_turns] + [len(cx) - 1]
for tb in idx_turn:
    col = "rgba(244,67,54,0.62)" if colour_i % 2 == 0 else "rgba(76,175,80,0.68)"
    fig.add_trace(go.Scatter(x=cx[start:tb + 1], y=cy[start:tb + 1], xaxis="x2", yaxis="y2", mode="lines",
                             line=dict(color=col, width=3.4), hoverinfo="skip", showlegend=False))
    start = tb
    colour_i += 1

# --- stochastic pane
sd = dict(xa="x3", ya="y3", scale=False)
add_line([(BX[0], stoch_hi), (BX[1], stoch_hi)], "#f44336", 1.3, **sd)
add_line([(BX[0], stoch_mid_hi), (BX[1], stoch_mid_hi)], "#6a6d78", 1.6, **sd)
add_line([(BX[0], stoch_mid), (BX[1], stoch_mid)], "#b2b5be", 1, dash="dash", **sd)
add_line([(BX[0], stoch_mid_lo), (BX[1], stoch_mid_lo)], "#6a6d78", 1.6, **sd)
add_line([(BX[0], stoch_lo), (BX[1], stoch_lo)], "#4caf50", 1.3, **sd)
for series, col in ((slow_red, "#f44336"), (slow_green, "#4caf50"), (fast_green, "#4caf50"), (fast_red, "#f44336")):
    add_line(series, col, 1, **sd)
fig.add_trace(go.Scatter(x=[0], y=[0], xaxis="x8", yaxis="y8", mode="markers", marker=dict(opacity=0), hoverinfo="skip", showlegend=False))

# --- axes
tf = dict(family=FONT, size=12, color=TXT)
hidden = dict(visible=False, fixedrange=True)
lay = dict(
    width=W, height=H, margin=dict(l=0, r=0, t=0, b=0), autosize=False,
    paper_bgcolor=DARK, plot_bgcolor="white", showlegend=False, barmode="stack", bargap=0,
    boxgap=0.2, boxgroupgap=0.2, hovermode=False,
    xaxis=dict(domain=xd(), range=BX, anchor="y", showgrid=False, zeroline=False, showticklabels=False, ticks="", rangeslider=dict(visible=False)),
    yaxis=dict(domain=MAIN, range=PY, anchor="x", side="right", showgrid=False, zeroline=False, ticks="outside", ticklen=7, tickcolor="rgba(0,0,0,0)",
               tickvals=price_ticks, ticktext=[f"{v:.5f}" for v in price_ticks], tickfont=tf),
    xaxis2=dict(domain=xd(), range=BX, anchor="y2", showgrid=False, zeroline=False, showticklabels=False, ticks=""),
    yaxis2=dict(domain=CCI, range=[-101, 80.6], anchor="x2", side="right", showgrid=False, zeroline=False, ticks="outside", ticklen=7, tickcolor="rgba(0,0,0,0)",
                tickvals=[50, 0, -50], ticktext=["50.00000", "0.00000", "\u221250.00000"], tickfont=tf),
    xaxis3=dict(domain=xd(), range=BX, anchor="y3", showgrid=False, zeroline=False, ticks="outside", ticklen=3, tickcolor="rgba(0,0,0,0)",
                tickvals=time_bars, ticktext=time_labels, tickfont=tf),
    yaxis3=dict(domain=STO, range=[-12, 112.7], anchor="x3", side="left", showgrid=False, zeroline=False, ticks="outside", ticklen=4, tickcolor="rgba(0,0,0,0)",
                tickvals=[100, 50, 0], ticktext=["100.00", "50.00", "0.00"], tickfont=tf),
    xaxis4=dict(domain=xd(), range=[0, 4433.9], overlaying="x", anchor="y4", **hidden),
    yaxis4=dict(domain=MAIN, range=PY, overlaying="y", anchor="x4", **hidden),
    xaxis5=dict(domain=xd(), range=[1599.4, -380.6], overlaying="x", anchor="y5", **hidden),
    yaxis5=dict(domain=MAIN, range=PY, overlaying="y", anchor="x5", **hidden),
    xaxis6=dict(domain=xd(), range=BX, overlaying="x", anchor="y6", rangeslider=dict(visible=False), **hidden),
    yaxis6=dict(domain=MAIN, range=PY, overlaying="y", anchor="x6", **hidden),
    xaxis7=dict(domain=xd(), range=BX, overlaying="x", anchor="y7", **hidden),
    yaxis7=dict(domain=MAIN, range=PY, overlaying="y", anchor="x7", **hidden),
    xaxis8=dict(domain=xd(), range=BX, overlaying="x3", anchor="y8", **hidden),
    yaxis8=dict(domain=STO, range=[-6, 104.3], overlaying="y3", anchor="x8", side="right", showgrid=False, zeroline=False, ticks="outside", ticklen=7,
                tickcolor="rgba(0,0,0,0)", tickvals=[80, 40, 0], ticktext=["80.00", "40.00", "0.00"], tickfont=tf),
)
fig.update_layout(**lay)

# --- page furniture in pixel terms
def fx(v): return v / W
def fy(v): return 1 - v * VS / H
def rect(x0, y0, x1, y1, fill, line=None, layer="above", lw=1):
    fig.add_shape(type="rect", xref="paper", yref="paper", x0=fx(x0), y0=fy(y0), x1=fx(x1), y1=fy(y1), fillcolor=fill,
                  line=dict(color=line or fill, width=lw if line else 0), layer=layer)
def hline(y, x0, x1, col, w=1):
    fig.add_shape(type="line", xref="paper", yref="paper", x0=fx(x0), x1=fx(x1), y0=fy(y), y1=fy(y), line=dict(color=col, width=w))
def vline(x, y0, y1, col, w=1):
    fig.add_shape(type="line", xref="paper", yref="paper", x0=fx(x), x1=fx(x), y0=fy(y0), y1=fy(y1), line=dict(color=col, width=w))
def label(x, y, s, size=12, col=TXT, anchor="left", family=FONT):
    fig.add_annotation(xref="paper", yref="paper", x=fx(x), y=fy(y), text=s, showarrow=False, xanchor=anchor, yanchor="middle",
                       font=dict(family=family, size=size, color=col), borderpad=0, borderwidth=0)
def circle(cx_, cy_, r, fill, line=None, lw=1):
    fig.add_shape(type="circle", xref="paper", yref="paper", x0=fx(cx_ - r), x1=fx(cx_ + r), y0=fy(cy_ + r), y1=fy(cy_ - r),
                  fillcolor=fill, line=dict(color=line or fill, width=lw))

rect(10, 27.5, 2120, 1232, "white", layer="below")
fig.add_shape(type="rect", xref="x3 domain", yref="y3", x0=0, x1=1, y0=stoch_mid_lo, y1=stoch_mid_hi, fillcolor="rgba(126,87,194,0.05)", line_width=0, layer="below")
SEP = "#e0e3eb"
hline(1014, 10, 2120, SEP, 1.2)
hline(1126.7, 10, 2120, SEP, 1.2)
hline(1205.6, 10, 2120, "#787b86", 1.2)
hline(1232, 10, 2120, "#787b86", 1.2)
hline(27.5, 10, 2120, "#787b86", 1)
vline(AX_L, 27.5, 1232, "#787b86", 1)
vline(AX_R, 27.5, 1232, "#787b86", 1)
vline(2120, 27.5, 1232, "#787b86", 1)

rect(2045.5, 289.3, 2104.8, 318.6, "#008000")
label(2052.5, 297, "0.65081", 12, "#ffffff")
label(2052.5, 310, "01:56:46", 12, "rgba(255,255,255,0.72)")
fig.add_shape(type="rect", xref="paper", yref="paper", x0=fx(2048.5), x1=fx(2115.5), y0=fy(57), y1=fy(31), fillcolor="white", line=dict(color="#eceef3", width=1.5))
label(2057, 44, "USD", 11.5, TXT)

circle(37.4, 1216.5, 9, "#f0f3fa")
label(37.4, 1216.5, "Z", 11, "#787b86", "center")
circle(2082, 1216.5, 9, "#f0f3fa")
label(2082, 1216.5, "A", 11, "#787b86", "center")

circle(1665.3, 1001.7, 9.5, "white", "#9c27b0", 1.5)
label(1665.3, 1001.7, "\u26a1", 13, "#9c27b0", "center", "DejaVu Sans")

label(10, 15.5, "Tickmill published on TradingView.com, Nov 06, 2023 03:03 UTC-5", 11.9, "#d1d4dc", "left", "Inter")
label(33, 1251, "TradingView", 13, "#d1d4dc", "left", "Inter")
# logo
def poly(pts, col):
    path = "M " + " L ".join(f"{fx(x):.5f},{fy(y):.5f}" for x, y in pts) + " Z"
    fig.add_shape(type="path", xref="paper", yref="paper", path=path, fillcolor=col, line_width=0)
poly([(10, 1245.5), (20, 1245.5), (20, 1257.5), (15, 1257.5), (15, 1250.5), (10, 1250.5)], "#d1d4dc")
circle(23, 1248, 2.5, "#d1d4dc")
poly([(26.5, 1245.5), (31, 1245.5), (26, 1257.5), (21, 1257.5)], "#d1d4dc")

fig.write_html("out.html", config={"displayModeBar": False},
               post_script="document.body.style.margin='0';document.body.style.background='#1e222d';document.documentElement.style.overflow='hidden';")
